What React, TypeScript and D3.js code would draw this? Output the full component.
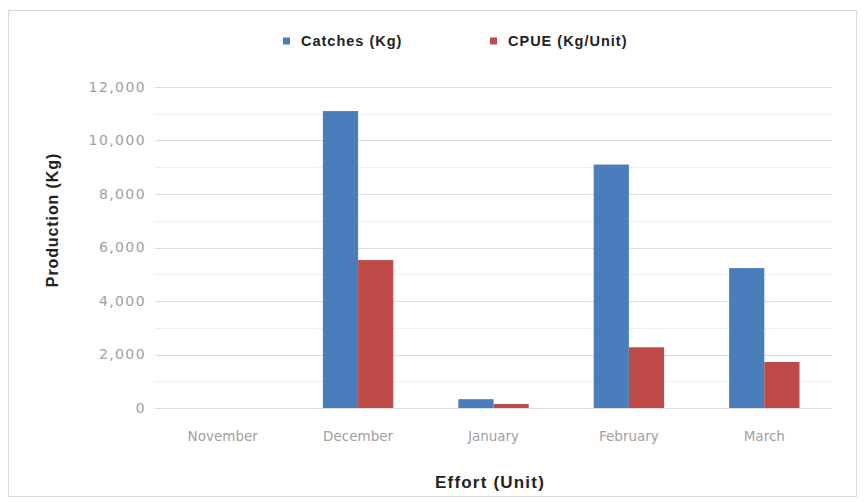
import { useEffect, useRef } from "react";
import * as d3 from "d3";

const months = ["November", "December", "January", "February", "March"];
const catches = [0, 11100, 330, 9100, 5230];
const cpue = [0, 5530, 150, 2270, 1720];
const seriesNames = ["Catches (Kg)", "CPUE (Kg/Unit)"];
const seriesColors = ["#4a7ebb", "#be4b48"];
const yTicks = [0, 2000, 4000, 6000, 8000, 10000, 12000];

const titleFont = "Liberation Sans, Arial, sans-serif";

const App: React.FC = () => {
  const svgRef = useRef<SVGSVGElement | null>(null);

  useEffect(() => {
    const svg = d3.select(svgRef.current);
    svg.selectAll("*").remove();

    const width = 864,
      height = 502;
    const margin = { top: 87, right: 32, bottom: 94, left: 155 };
    const innerWidth = width - margin.left - margin.right;
    const innerHeight = height - margin.top - margin.bottom;

    // frame
    svg
      .append("rect")
      .attr("x", 8.5)
      .attr("y", 10.5)
      .attr("width", 848)
      .attr("height", 486)
      .attr("fill", "#fff")
      .attr("stroke", "#d9d9d9");

    const x0 = d3.scaleBand().domain(months).range([0, innerWidth]);

    const x1 = d3
      .scaleBand()
      .domain(seriesNames)
      .range([x0.bandwidth() * 0.24, x0.bandwidth() * 0.76]);

    const y = d3.scaleLinear().domain([0, 12000]).range([innerHeight, 0]);

    const g = svg
      .append("g")
      .attr("transform", `translate(${margin.left},${margin.top})`);

    // minor + major gridlines
    const grid = d3.range(0, 12001, 1000);
    g.selectAll(".grid")
      .data(grid)
      .enter()
      .append("line")
      .attr("x1", 0)
      .attr("x2", innerWidth)
      .attr("y1", (d) => Math.round(y(d)) + 0.5)
      .attr("y2", (d) => Math.round(y(d)) + 0.5)
      .attr("stroke", (d) => (d % 2000 === 0 ? "#dcdcdc" : "#eeeeee"))
      .attr("stroke-width", 1);

    const yAxis = g
      .append("g")
      .call(
        d3
          .axisLeft(y)
          .tickValues(yTicks)
          .tickSize(0)
          .tickPadding(9)
          .tickFormat(d3.format(","))
      );
    yAxis.select(".domain").remove();
    yAxis
      .selectAll("text")
      .attr("fill", "#a0a0a0")
      .attr("font-family", "DejaVu Sans")
      .attr("font-size", 14)
      .attr("letter-spacing", 1.4);

    const xAxis = g
      .append("g")
      .attr("transform", `translate(0,${innerHeight})`)
      .call(d3.axisBottom(x0).tickSize(0).tickPadding(23));
    xAxis.select(".domain").remove();
    xAxis
      .selectAll("text")
      .attr("fill", "#a0a0a0")
      .attr("font-family", "DejaVu Sans")
      .attr("font-size", 13.5);

    const series = [catches, cpue];
    series.forEach((vals, si) => {
      g.selectAll(`.bar-${si}`)
        .data(vals)
        .enter()
        .append("rect")
        .attr("class", `bar-${si}`)
        .attr("x", (_, i) => x0(months[i])! + x1(seriesNames[si])!)
        .attr("y", (d) => y(d))
        .attr("width", x1.bandwidth())
        .attr("height", (d) => innerHeight - y(d))
        .attr("fill", seriesColors[si]);
    });

    // axis titles
    svg
      .append("text")
      .attr("transform", `translate(58,220) rotate(-90)`)
      .attr("text-anchor", "middle")
      .attr("font-family", titleFont)
      .attr("font-weight", "bold")
      .attr("font-size", 16)
      .attr("letter-spacing", 0.9)
      .attr("fill", "#222")
      .text("Production (Kg)");

    svg
      .append("text")
      .attr("x", 490)
      .attr("y", 488)
      .attr("text-anchor", "middle")
      .attr("font-family", titleFont)
      .attr("font-weight", "bold")
      .attr("font-size", 17)
      .attr("letter-spacing", 1.2)
      .attr("fill", "#222")
      .text("Effort (Unit)");

    // legend
    const legendX = [283, 490];
    seriesNames.forEach((name, i) => {
      const lg = svg
        .append("g")
        .attr("transform", `translate(${legendX[i]},41)`);
      lg.append("rect")
        .attr("x", 0)
        .attr("y", -3.5)
        .attr("width", 7)
        .attr("height", 7)
        .attr("fill", seriesColors[i]);
      lg.append("text")
        .attr("x", 18)
        .attr("y", 5)
        .attr("font-family", titleFont)
        .attr("font-weight", "bold")
        .attr("font-size", 14.5)
        .attr("letter-spacing", 1)
        .attr("fill", "#222")
        .text(name);
    });
  }, []);

  return (
    <svg
      ref={svgRef}
      width={864}
      height={502}
      style={{ position: "absolute", left: 0, top: 0 }}
    ></svg>
  );
};

export default App;
